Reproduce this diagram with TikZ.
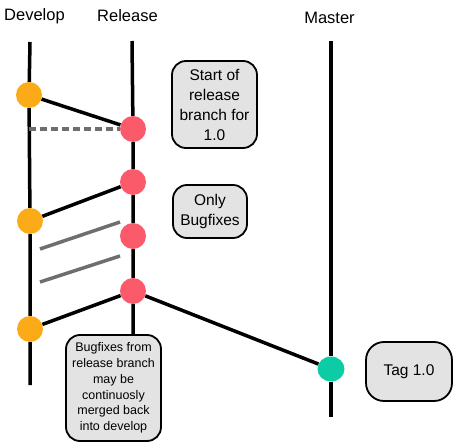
\documentclass[tikz,border=0pt]{standalone}
\usepackage{fontspec}
\setmainfont{Liberation Sans}
\usetikzlibrary{shapes.geometric}
\definecolor{devorange}{HTML}{FBAB17}
\definecolor{relred}{HTML}{FA5A6A}
\definecolor{mastgreen}{HTML}{0BCCA4}
\definecolor{notegray}{HTML}{E3E3E3}
\definecolor{mergegray}{HTML}{6E6E6E}

\begin{document}
\begin{tikzpicture}[x=1pt,y=-1pt,
  branch/.style={line width=3.5pt},
  merge/.style={line width=3.5pt,draw=mergegray},
  commit/.style={circle,minimum size=26pt,inner sep=0pt},
  devcommit/.style={commit,fill=devorange},
  relcommit/.style={commit,fill=relred},
  mastcommit/.style={commit,fill=mastgreen,ellipse,minimum width=27pt,minimum height=25pt},
  title/.style={font=\fontsize{16.5}{20}\selectfont},
  note/.style={draw,line width=1.8pt,fill=notegray,rounded corners=14pt,align=center,
    inner sep=2pt,font=\fontsize{15.5}{20}\selectfont}]
\useasboundingbox (0,0) rectangle (466,444);

% branch titles
\node[title] (develop) at (34.5,16) {Develop};
\node[title] (release) at (127.5,16) {Release};
\node[title] (master) at (329.5,18) {Master};

% commits
\node[devcommit] (d1) at (29,95) {};
\node[devcommit] (d2) at (30,221) {};
\node[devcommit] (d3) at (30,329) {};
\node[relcommit] (r1) at (133,129) {};
\node[relcommit] (r2) at (133,182) {};
\node[relcommit] (r3) at (133,236) {};
\node[relcommit] (r4) at (133,291) {};
\node[mastcommit] (m1) at (331,369) {};

% notes
\node[note,minimum width=85pt,minimum height=87pt] (start) at (214.5,104.5)
  {Start of\\release\\branch for\\1.0};
\node[note,minimum width=74pt,minimum height=53pt] (only) at (210,211.5)
  {Only\\Bugfixes};
\node[note,minimum width=95pt,minimum height=106pt,font=\fontsize{12.5}{15.7}\selectfont] (merged) at (113.5,388)
  {Bugfixes from\\release branch\\may be\\continuosly\\merged back\\into develop};
\node[note,minimum width=86pt,minimum height=59pt,rounded corners=18pt] (tag) at (409,371.5)
  {Tag 1.0};

% branch lines
\coordinate (devtop) at (30,42);
\coordinate (devend) at (30,385);
\coordinate (reltop) at (132,41);
\coordinate (masttop) at (331,41);
\coordinate (mastend) at (331,417);
\draw[branch] (devtop) -- (d1) -- (d2) -- (d3) -- (devend);
\draw[branch] (reltop) -- (r1) -- (r2) -- (r3) -- (r4) -- (r4 |- merged.north);
\draw[branch] (masttop) -- (m1) -- (mastend);

% branching and merging
\draw[branch] (d1) -- (r1);
\draw[merge,dash pattern=on 7pt off 4pt] (d1 |- r1) -- (r1);
\draw[branch] (r2) -- (d2);
\draw[branch] (r4) -- (d3);
\draw[branch] (r4) -- (m1);
\draw[merge] (40,249) -- (120,222);
\draw[merge] (40,282) -- (120,256);
\end{tikzpicture}
\end{document}
